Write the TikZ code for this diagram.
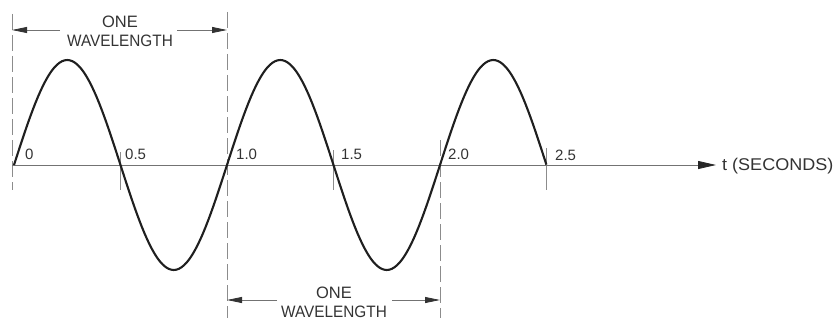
\documentclass[tikz,border=0pt]{standalone}
\usepackage{fontspec}
\setmainfont{Liberation Sans}
\usetikzlibrary{arrows.meta}
\begin{document}
\begin{tikzpicture}[x=1pt,y=-1pt,
  wave/.style={line width=2.1pt,color=black!88,line join=round},
  axisline/.style={line width=0.8pt,color=black!55},
  guide/.style={line width=0.7pt,color=black!45,dash pattern=on 16pt off 5pt},
  tickline/.style={line width=0.7pt,color=black!45},
  dimarrow/.style={line width=0.8pt,color=black!55,-{Triangle[length=15pt,width=6pt,color=black!80]}},
  numlabel/.style={font=\fontsize{15}{15}\selectfont,text=black!80,inner sep=0pt,anchor=base west},
  wlabel/.style={font=\fontsize{16.5}{19}\selectfont,text=black!80,inner sep=0pt,align=center}]
\useasboundingbox (0,0) rectangle (835,321);
% tick positions on the axis
\coordinate (t0) at (13,165);
\coordinate (t05) at (120,165);
\coordinate (t10) at (227,165);
\coordinate (t15) at (333,165);
\coordinate (t20) at (440,165);
\coordinate (t25) at (546,165);
\coordinate (axend) at (716,165);
% guide lines
\coordinate (g0a) at (12,14); \coordinate (g0b) at (12,190);
\coordinate (g1a) at (227,12); \coordinate (g1b) at (227,318);
\coordinate (g2a) at (440,140); \coordinate (g2b) at (440,318);
\draw[guide] (g0a) -- (g0b);
\draw[guide] (g1a) -- (g1b);
\draw[guide] (g2a) -- (g2b);
\draw[tickline] (120,152) -- (120,190);
\draw[tickline] (333,150) -- (333,190);
\draw[tickline] (546,148) -- (546,190);
% axis
\draw[axisline,-{Triangle[length=18pt,width=8pt,color=black!85]}] (12,165) -- (axend);
\node[font=\fontsize{17}{17}\selectfont,text=black!80,anchor=west,inner sep=0pt] (tsec) at (722,166) {\scalebox{1.06}[1]{t (SECONDS)}};
% wave
\draw[wave] plot[domain=0:2.5,samples=201,smooth] ({14+213*\x},{165-105*sin(360*\x)});
% number labels
\node[numlabel] (l0) at (25,159) {0};
\node[numlabel] (l05) at (125,159) {0.5};
\node[numlabel] (l10) at (236,159) {1.0};
\node[numlabel] (l15) at (341,159) {1.5};
\node[numlabel] (l20) at (448,159) {2.0};
\node[numlabel] (l25) at (555,160) {2.5};
% top wavelength
\node[wlabel] (wtop) at (120,31) {ONE\\\scalebox{0.93}[1]{WAVELENGTH}};
\coordinate (ta) at (60,30); \coordinate (tb) at (177,30);
\coordinate (taL) at (12,30); \coordinate (tbR) at (227,30);
\draw[dimarrow] (ta) -- (taL);
\draw[dimarrow] (tb) -- (tbR);
% bottom wavelength
\node[wlabel] (wbot) at (334,302) {ONE\\\scalebox{0.93}[1]{WAVELENGTH}};
\coordinate (ba) at (277,300); \coordinate (bb) at (392,300);
\coordinate (baL) at (227,300); \coordinate (bbR) at (440,300);
\draw[dimarrow] (ba) -- (baL);
\draw[dimarrow] (bb) -- (bbR);
\end{tikzpicture}
\end{document}
